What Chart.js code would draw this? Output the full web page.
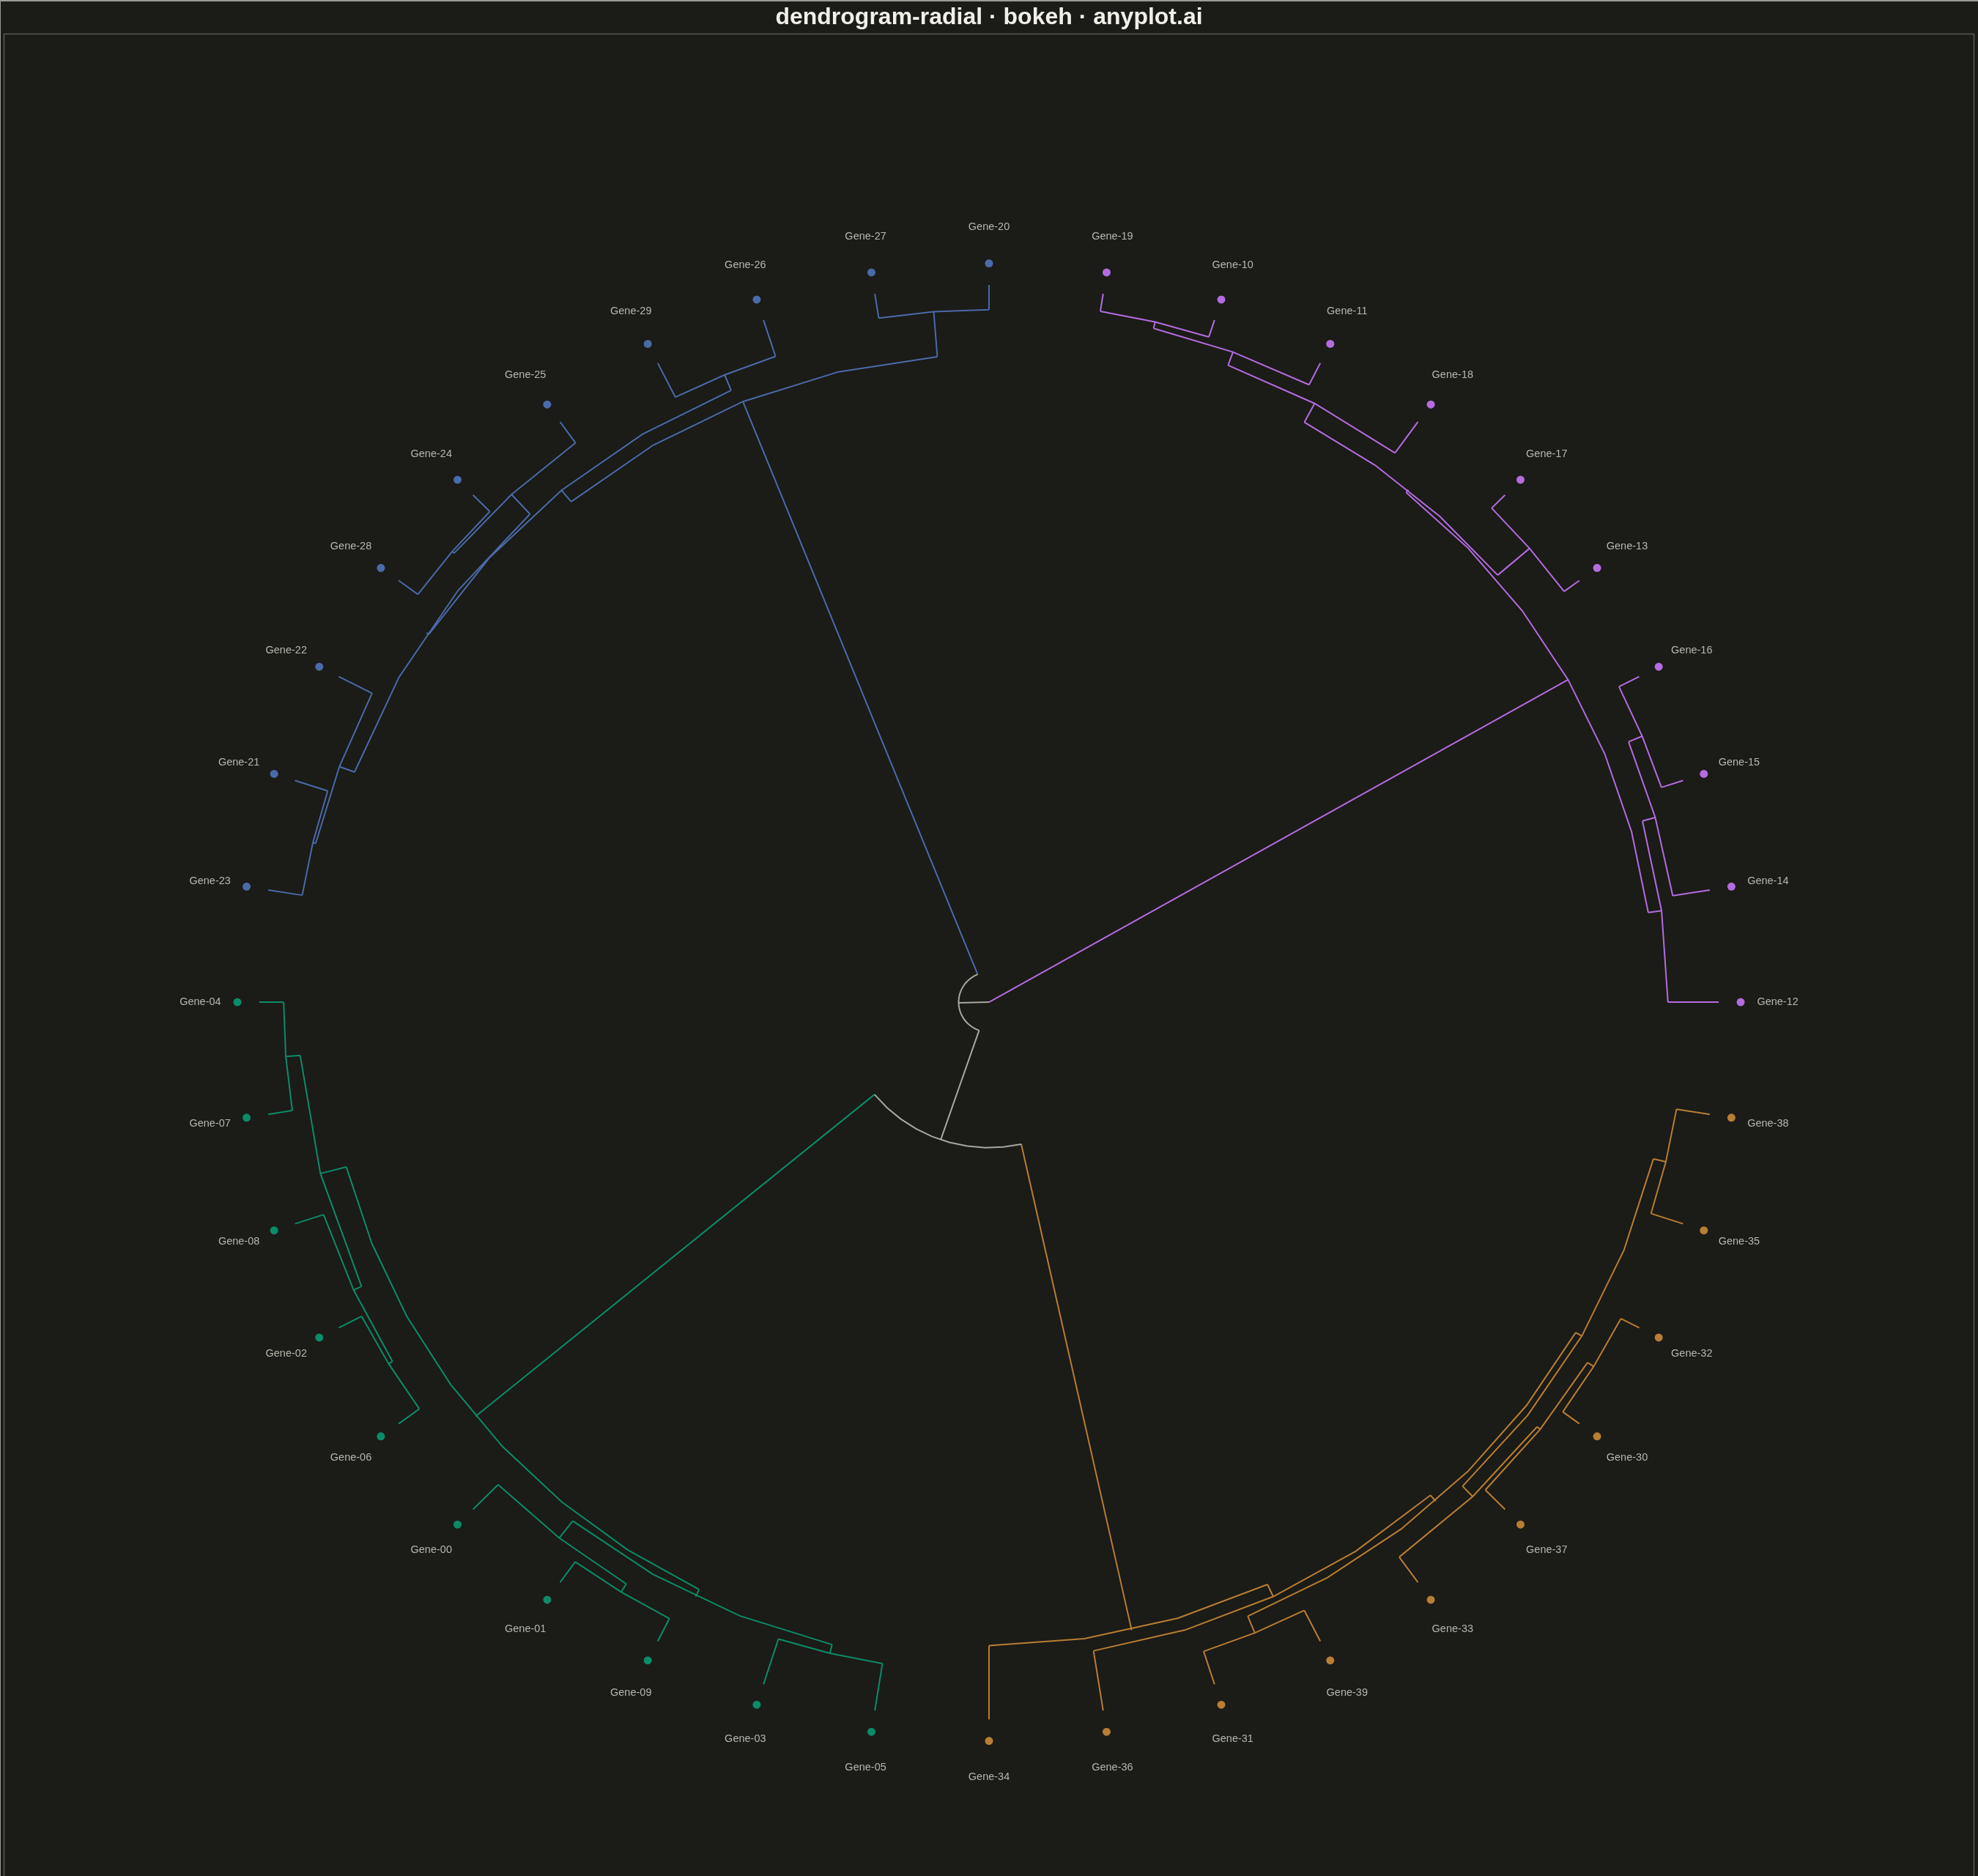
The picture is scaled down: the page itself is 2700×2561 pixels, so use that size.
<!DOCTYPE html>
<html>
<head>
<meta charset="utf-8">
<title>dendrogram-radial · bokeh · anyplot.ai</title>
<script src="https://cdn.jsdelivr.net/npm/chart.js@4.4.1/dist/chart.umd.min.js"></script>
<style>
    html, body { margin: 0; padding: 0; background: #1b1b17; }
    canvas { display: block; }
</style>
</head>
<body>
<canvas id="dendrogram" width="2700" height="2561" style="width:2700px;height:2561px"></canvas>
<script>
// leaves in the order they sit round the circle, counter-clockwise from 3 o'clock
const leafOrder = [
    'Gene-12', 'Gene-14', 'Gene-15', 'Gene-16', 'Gene-13', 'Gene-17', 'Gene-18', 'Gene-11', 'Gene-10', 'Gene-19',
    'Gene-20', 'Gene-27', 'Gene-26', 'Gene-29', 'Gene-25', 'Gene-24', 'Gene-28', 'Gene-22', 'Gene-21', 'Gene-23',
    'Gene-04', 'Gene-07', 'Gene-08', 'Gene-02', 'Gene-06', 'Gene-00', 'Gene-01', 'Gene-09', 'Gene-03', 'Gene-05',
    'Gene-34', 'Gene-36', 'Gene-31', 'Gene-39', 'Gene-33', 'Gene-37', 'Gene-30', 'Gene-32', 'Gene-35', 'Gene-38'
];

// cluster of each leaf (same order as leafOrder)
const leafCluster = [
    0, 0, 0, 0, 0, 0, 0, 0, 0, 0,
    1, 1, 1, 1, 1, 1, 1, 1, 1, 1,
    2, 2, 2, 2, 2, 2, 2, 2, 2, 2,
    3, 3, 3, 3, 3, 3, 3, 3, 3, 3
];

// merges: [child, child, height]; a number points at an earlier merge
const linkage = [
    ['Gene-19', 'Gene-10', 0.595],   // 0
    ['Gene-17', 'Gene-13', 0.621],   // 1
    ['Gene-30', 'Gene-32', 0.674],   // 2
    ['Gene-16', 'Gene-15', 0.747],   // 3
    ['Gene-24', 'Gene-28', 0.783],   // 4
    ['Gene-04', 'Gene-07', 0.802],   // 5
    [0, 'Gene-11', 0.814],           // 6
    ['Gene-20', 'Gene-27', 0.828],   // 7
    ['Gene-02', 'Gene-06', 0.843],   // 8
    ['Gene-01', 'Gene-09', 0.850],   // 9
    ['Gene-25', 4, 0.867],           // 10
    ['Gene-37', 2, 0.915],           // 11
    ['Gene-08', 8, 0.990],           // 12
    ['Gene-33', 11, 1.048],          // 13
    ['Gene-35', 'Gene-38', 1.108],   // 14
    ['Gene-21', 'Gene-23', 1.132],   // 15
    ['Gene-31', 'Gene-39', 1.156],   // 16
    ['Gene-00', 9, 1.168],           // 17
    ['Gene-22', 15, 1.228],          // 18
    [3, 'Gene-14', 1.233],           // 19
    [5, 12, 1.276],                  // 20
    ['Gene-26', 'Gene-29', 1.281],   // 21
    [6, 'Gene-18', 1.284],           // 22
    [13, 14, 1.529],                 // 23
    ['Gene-03', 'Gene-05', 1.594],   // 24
    [19, 'Gene-12', 1.671],          // 25
    [10, 18, 1.758],                 // 26
    [16, 23, 1.760],                 // 27
    [21, 26, 1.842],                 // 28
    [17, 24, 1.891],                 // 29
    [22, 1, 1.999],                  // 30
    ['Gene-36', 27, 2.023],          // 31
    [30, 25, 2.112],                 // 32
    [20, 29, 2.156],                 // 33
    [7, 28, 2.336],                  // 34
    ['Gene-34', 31, 2.469],          // 35
    [33, 35, 19.13],                 // 36
    [34, 36, 23.00],                 // 37
    [32, 37, 24.00]                  // 38
];

const clusterColours = ['#b46ce0', '#4a6aaa', '#0b8c69', '#b87e33'];
const linkGrey = '#a8a8a1';
const labelGrey = '#b7b7af';
const background = '#1b1b17';

const R_LEAF = 996.5;
const R_DOT = 1026.4;
const R_LABEL = 1077;

function polar(r, deg) {
    const a = deg * Math.PI / 180;
    return { x: r * Math.cos(a), y: r * Math.sin(a) };
}

function build_tree() {
    const n = leafOrder.length;
    const hMax = Math.max(...linkage.map(l => l[2]));
    const angle = [], radius = [], parent = [], cluster = [], kids = [];
    for (let i = 0; i < n; i++) {
        angle.push(i * 360 / n);
        radius.push(R_LEAF);
        parent.push(-1);
        cluster.push(leafCluster[i]);
        kids.push(null);
    }
    const ref = c => typeof c === 'string' ? leafOrder.indexOf(c) : n + c;
    for (const link of linkage) {
        const a = ref(link[0]);
        const b = ref(link[1]);
        const id = angle.length;
        angle.push((angle[a] + angle[b]) / 2);
        radius.push(R_LEAF * (1 - link[2] / hMax));
        parent.push(-1);
        cluster.push(cluster[a] === cluster[b] ? cluster[a] : -1);
        kids.push([a, b]);
        parent[a] = id;
        parent[b] = id;
    }
    return { angle, radius, parent, cluster, kids };
}

function link_segments(tree) {
    const groups = {};
    const push = (key, pts) => {
        if (!groups[key]) groups[key] = [];
        groups[key].push(...pts, { x: null, y: null });
    };
    for (let i = 0; i < tree.angle.length; i++) {
        const p = tree.parent[i];
        if (p >= 0) {
            push(tree.cluster[i], [polar(tree.radius[i], tree.angle[i]), polar(tree.radius[p], tree.angle[i])]);
        }
        if (tree.kids[i]) {
            // arcs are coarse polylines, roughly one vertex every 7 degrees
            const a0 = tree.angle[tree.kids[i][0]];
            const a1 = tree.angle[tree.kids[i][1]];
            const steps = Math.max(2, Math.floor(Math.abs(a1 - a0) / 7));
            const pts = [];
            for (let s = 0; s <= steps; s++) {
                pts.push(polar(tree.radius[i], a0 + (a1 - a0) * s / steps));
            }
            push(tree.cluster[i], pts);
        }
    }
    return groups;
}

const backdrop = {
    id: 'backdrop',
    beforeDraw(chart) {
        const ctx = chart.ctx;
        ctx.save();
        ctx.fillStyle = background;
        ctx.fillRect(0, 0, chart.width, chart.height);
        ctx.strokeStyle = '#9c9c96';
        ctx.lineWidth = 2;
        ctx.beginPath();
        ctx.moveTo(0, chart.height);
        ctx.lineTo(0, 1);
        ctx.lineTo(chart.width, 1);
        ctx.stroke();
        const area = chart.chartArea;
        ctx.strokeStyle = '#5a5a54';
        ctx.lineWidth = 1.5;
        ctx.strokeRect(area.left, area.top, area.right - area.left, chart.height + 10);
        ctx.restore();
    }
};

const leafLabels = {
    id: 'leafLabels',
    afterDatasetsDraw(chart) {
        const ctx = chart.ctx;
        const xs = chart.scales.x;
        const ys = chart.scales.y;
        ctx.save();
        ctx.font = '14.5px "Liberation Sans", Arial, sans-serif';
        ctx.fillStyle = labelGrey;
        ctx.textAlign = 'center';
        ctx.textBaseline = 'middle';
        leafOrder.forEach((name, i) => {
            const p = polar(R_LABEL, i * 360 / leafOrder.length);
            ctx.fillText(name, xs.getPixelForValue(p.x), ys.getPixelForValue(p.y));
        });
        ctx.restore();
    }
};

function dendrogram() {
    const tree = build_tree();
    const groups = link_segments(tree);
    const datasets = [];
    for (const key of ['-1', '0', '1', '2', '3']) {
        datasets.push({
            data: groups[key],
            showLine: true,
            spanGaps: false,
            borderColor: key === '-1' ? linkGrey : clusterColours[+key],
            borderWidth: 2,
            pointRadius: 0,
            pointHoverRadius: 0,
            fill: false,
            tension: 0
        });
    }
    datasets.push({
        data: leafOrder.map((name, i) => polar(R_DOT, i * 360 / leafOrder.length)),
        showLine: false,
        pointRadius: 5.5,
        pointBorderWidth: 0,
        pointBackgroundColor: leafCluster.map(c => clusterColours[c]),
        pointBorderColor: leafCluster.map(c => clusterColours[c])
    });

    new Chart(document.getElementById('dendrogram'), {
        type: 'scatter',
        data: { datasets: datasets },
        options: {
            responsive: false,
            animation: false,
            devicePixelRatio: 1,
            layout: { padding: { left: 5, right: 5, top: 0, bottom: 0 } },
            scales: {
                x: { type: 'linear', min: -1345, max: 1345, display: false },
                y: { type: 'linear', min: -1208.5, max: 1345.1, display: false }
            },
            plugins: {
                legend: { display: false },
                tooltip: { enabled: false },
                title: {
                    display: true,
                    text: 'dendrogram-radial · bokeh · anyplot.ai',
                    color: '#f0efe8',
                    font: { family: '"Liberation Sans", Arial, sans-serif', size: 32, weight: 'bold' },
                    padding: { top: 5, bottom: 3 }
                }
            }
        },
        plugins: [backdrop, leafLabels]
    });
}

dendrogram();
</script>
</body>
</html>
